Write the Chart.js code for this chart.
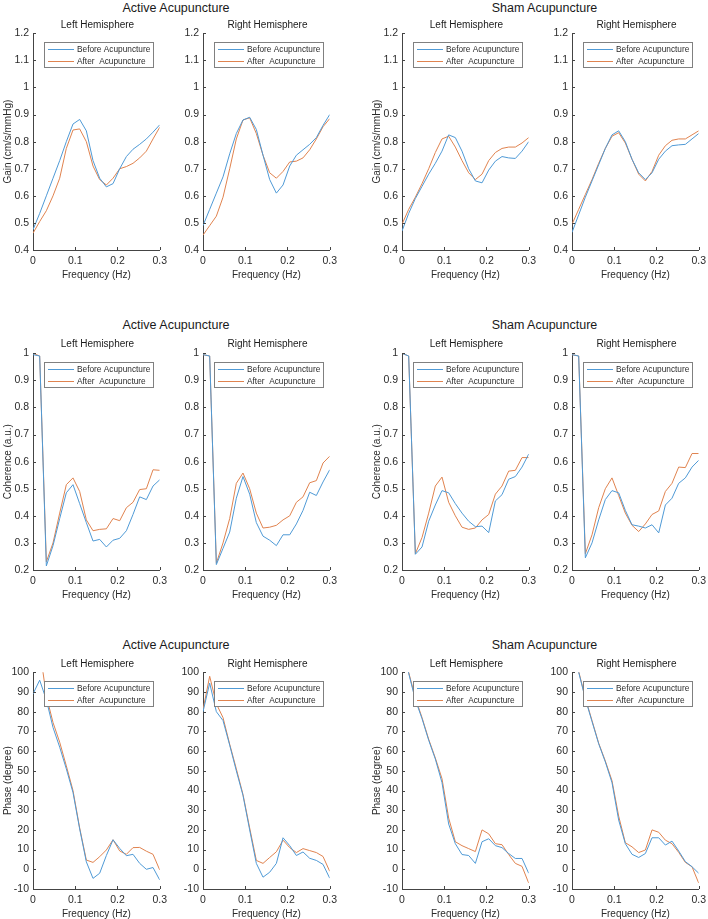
<!DOCTYPE html>
<html>
<head>
<meta charset="utf-8">
<script src="https://cdn.jsdelivr.net/npm/chart.js@4.4.0/dist/chart.umd.min.js"></script>
<style>
  body { margin: 0; background: #fff; }
  #fig { position: relative; width: 708px; height: 919px; overflow: hidden; font-family: "Liberation Sans", Arial, sans-serif; color: #1a1a1a; }
  .panel { position: absolute; }
  .title { position: absolute; width: 240px; text-align: center; font-size: 12.5px; line-height: 15px; white-space: nowrap; }
  .sub { position: absolute; width: 160px; text-align: center; font-size: 10px; line-height: 12px; white-space: nowrap; }
</style>
</head>
<body>
<div id="fig"></div>
<script>
// frequency axis (Hz), shared by every panel
const freq = [0, 0.0158, 0.0316, 0.0474, 0.0632, 0.0789, 0.0947, 0.1105, 0.1263, 0.1421,
              0.1579, 0.1737, 0.1895, 0.2053, 0.2211, 0.2368, 0.2526, 0.2684, 0.2842, 0.3];

// Gain
const gainActLBefore = [0.475, 0.535, 0.60, 0.665, 0.73, 0.80, 0.865, 0.882, 0.84, 0.73, 0.665, 0.633, 0.645, 0.70, 0.745, 0.772, 0.79, 0.81, 0.835, 0.862];
const gainActLAfter  = [0.462, 0.505, 0.545, 0.60, 0.665, 0.775, 0.843, 0.847, 0.80, 0.71, 0.66, 0.64, 0.665, 0.70, 0.708, 0.72, 0.74, 0.765, 0.81, 0.853];
const gainActRBefore = [0.49, 0.55, 0.61, 0.67, 0.755, 0.83, 0.88, 0.89, 0.845, 0.75, 0.66, 0.61, 0.64, 0.71, 0.75, 0.77, 0.79, 0.815, 0.86, 0.90];
const gainActRAfter  = [0.455, 0.49, 0.525, 0.595, 0.70, 0.81, 0.88, 0.888, 0.83, 0.75, 0.685, 0.665, 0.69, 0.725, 0.728, 0.74, 0.77, 0.81, 0.855, 0.885];
const gainShamLBefore = [0.47, 0.535, 0.59, 0.635, 0.68, 0.72, 0.765, 0.825, 0.815, 0.765, 0.70, 0.655, 0.648, 0.695, 0.728, 0.745, 0.74, 0.738, 0.765, 0.80];
const gainShamLAfter  = [0.495, 0.55, 0.595, 0.645, 0.70, 0.76, 0.81, 0.82, 0.78, 0.73, 0.685, 0.66, 0.68, 0.73, 0.76, 0.775, 0.78, 0.78, 0.795, 0.815];
const gainShamRBefore = [0.465, 0.53, 0.595, 0.655, 0.715, 0.775, 0.825, 0.84, 0.80, 0.735, 0.685, 0.66, 0.685, 0.735, 0.765, 0.785, 0.788, 0.79, 0.81, 0.83];
const gainShamRAfter  = [0.495, 0.55, 0.605, 0.66, 0.72, 0.775, 0.82, 0.833, 0.795, 0.735, 0.68, 0.655, 0.69, 0.75, 0.785, 0.805, 0.81, 0.81, 0.825, 0.84];

// Coherence
const cohActLBefore = [0.995, 0.99, 0.215, 0.29, 0.39, 0.485, 0.515, 0.445, 0.375, 0.307, 0.313, 0.285, 0.31, 0.317, 0.345, 0.405, 0.47, 0.46, 0.51, 0.533];
const cohActLAfter  = [1.0, 0.99, 0.23, 0.30, 0.41, 0.515, 0.54, 0.49, 0.385, 0.345, 0.35, 0.352, 0.39, 0.382, 0.43, 0.45, 0.497, 0.50, 0.57, 0.568];
const cohActRBefore = [0.995, 0.99, 0.22, 0.28, 0.34, 0.465, 0.545, 0.48, 0.375, 0.325, 0.31, 0.29, 0.33, 0.33, 0.37, 0.42, 0.487, 0.475, 0.525, 0.57];
const cohActRAfter  = [0.995, 0.99, 0.225, 0.30, 0.39, 0.52, 0.558, 0.50, 0.41, 0.355, 0.358, 0.365, 0.385, 0.40, 0.45, 0.47, 0.522, 0.53, 0.595, 0.62];
const cohShamLBefore = [1.0, 0.99, 0.258, 0.285, 0.38, 0.44, 0.493, 0.485, 0.445, 0.41, 0.38, 0.36, 0.362, 0.338, 0.455, 0.478, 0.535, 0.545, 0.58, 0.628];
const cohShamLAfter  = [1.0, 0.99, 0.26, 0.32, 0.41, 0.51, 0.543, 0.45, 0.40, 0.358, 0.35, 0.355, 0.385, 0.405, 0.48, 0.51, 0.565, 0.568, 0.615, 0.615];
const cohShamRBefore = [0.995, 0.99, 0.245, 0.30, 0.385, 0.46, 0.493, 0.485, 0.42, 0.367, 0.362, 0.355, 0.367, 0.337, 0.44, 0.465, 0.52, 0.54, 0.58, 0.605];
const cohShamRAfter  = [0.995, 0.99, 0.26, 0.33, 0.43, 0.50, 0.54, 0.475, 0.41, 0.365, 0.342, 0.37, 0.405, 0.418, 0.49, 0.52, 0.58, 0.578, 0.63, 0.63];

// Phase
const phaseActLBefore = [89, 96, 86, 72, 62, 51, 39, 20.5, 3.8, -4.6, -2, 7, 15, 10.6, 6.9, 7.6, 3, 0, 0.9, -5.4];
const phaseActLAfter  = [110, 112, 88, 74.5, 64.5, 52.5, 40, 21, 4.7, 3.5, 6.4, 9.8, 15, 9.3, 7.6, 11, 11.1, 9.2, 7.6, -0.3];
const phaseActRBefore = [80, 94.5, 80, 75.5, 63, 50, 37.5, 20, 3, -4, -1.5, 3, 16, 12, 7, 8.8, 5.6, 4.5, 2.5, -4.5];
const phaseActRAfter  = [81, 98, 84, 77, 63.5, 51, 38, 21, 4.5, 3, 6, 8.9, 14.8, 11, 8.5, 10.5, 9.5, 8.5, 6.5, -1];
const phaseShamLBefore = [115, 99.5, 86, 76.5, 65.5, 56, 44, 23, 13, 7.5, 7, 3, 14, 15.5, 12, 11, 8, 5.5, 5.5, -2];
const phaseShamLAfter  = [115, 100, 87, 77, 66, 56.5, 46, 26, 14, 12, 10.5, 9, 20, 18, 13, 12.5, 7.5, 3, 1.5, -7];
const phaseShamRBefore = [115, 100, 86.5, 75, 63.7, 54.5, 44, 25, 13, 7.6, 6, 8, 16, 16, 12.3, 14.3, 9.3, 3.9, 1.3, -2];
const phaseShamRAfter  = [115, 100.5, 87, 75.5, 64, 55, 45, 27, 13.5, 11.4, 8.5, 9.8, 20, 18.8, 14.8, 13, 8.6, 3.5, 1.3, -7];

// tick labels
const freqTickLabels = ['0', '0.1', '0.2', '0.3'];
const gainTickLabels = ['0.4', '0.5', '0.6', '0.7', '0.8', '0.9', '1', '1.1', '1.2'];
const cohTickLabels = ['0.2', '0.3', '0.4', '0.5', '0.6', '0.7', '0.8', '0.9', '1'];
const phaseTickLabels = ['-10', '0', '10', '20', '30', '40', '50', '60', '70', '80', '90', '100'];

const groupTitles = ['Active Acupuncture', 'Sham Acupuncture'];
const sideTitles = ['Left Hemisphere', 'Right Hemisphere'];
const seriesLabels = ['Before Acupuncture', 'After  Acupuncture'];

const BLUE = '#4f9ad6';
const ORANGE = '#e0834f';
const AXIS = '#444444';
const TEXT = '#2b2b2b';
const FONT = '"Liberation Sans", Arial, sans-serif';

// layout (px)
const colAxisX = [33, 203, 402, 572];
const rowTop = [33, 353, 672];
const groupCenterX = [176, 544.5];
const titleTop = [1, 318, 638];
const subTop = [19, 337.5, 657.5];
const PLOT_W = 129, PLOT_H = 217;
const Y_BOX = 33, X_BOX = 31, PAD_TOP = 10, PAD_RIGHT = 10;

const rows = [
    { yTitle: 'Gain (cm/s/mmHg)', min: 0.4, max: 1.2, step: 0.1, labels: gainTickLabels,
      data: [[gainActLBefore, gainActLAfter], [gainActRBefore, gainActRAfter], [gainShamLBefore, gainShamLAfter], [gainShamRBefore, gainShamRAfter]] },
    { yTitle: 'Coherence (a.u.)', min: 0.2, max: 1, step: 0.1, labels: cohTickLabels,
      data: [[cohActLBefore, cohActLAfter], [cohActRBefore, cohActRAfter], [cohShamLBefore, cohShamLAfter], [cohShamRBefore, cohShamRAfter]] },
    { yTitle: 'Phase (degree)', min: -10, max: 100, step: 10, labels: phaseTickLabels,
      data: [[phaseActLBefore, phaseActLAfter], [phaseActRBefore, phaseActRAfter], [phaseShamLBefore, phaseShamLAfter], [phaseShamRBefore, phaseShamRAfter]] },
];

// small inward tick marks like the original axes
const inwardTicks = {
    id: 'inwardTicks',
    afterDraw(chart) {
        const { ctx, chartArea: a, scales: { x, y } } = chart;
        ctx.save();
        ctx.strokeStyle = AXIS;
        ctx.lineWidth = 1;
        ctx.beginPath();
        x.ticks.forEach(t => {
            const px = Math.round(x.getPixelForValue(t.value)) + 0.5;
            ctx.moveTo(px, a.bottom);
            ctx.lineTo(px, a.bottom - 3);
        });
        y.ticks.forEach(t => {
            const py = Math.round(y.getPixelForValue(t.value)) + 0.5;
            ctx.moveTo(a.left, py);
            ctx.lineTo(a.left + 3, py);
        });
        ctx.stroke();
        ctx.restore();
    }
};

// boxed legend in the upper left of the plot
const boxLegend = {
    id: 'boxLegend',
    afterDatasetsDraw(chart) {
        const { ctx, chartArea: a } = chart;
        const bx = Math.round(a.left + 11), by = Math.round(a.top + 9);
        ctx.save();
        ctx.fillStyle = '#fff';
        ctx.fillRect(bx, by, 109, 25);
        ctx.strokeStyle = '#808080';
        ctx.lineWidth = 1;
        ctx.strokeRect(bx + 0.5, by + 0.5, 109, 25);
        ctx.font = '8.3px ' + FONT;
        ctx.textBaseline = 'middle';
        chart.data.datasets.forEach((ds, i) => {
            const ly = Math.round(by + 7 + i * 11.5) + 0.5;
            ctx.strokeStyle = ds.borderColor;
            ctx.beginPath();
            ctx.moveTo(bx + 4, ly);
            ctx.lineTo(bx + 30, ly);
            ctx.stroke();
            ctx.fillStyle = TEXT;
            ctx.fillText(ds.label, bx + 33, ly);
        });
        ctx.restore();
    }
};

const fig = document.getElementById('fig');

function addText(cls, text, left, top) {
    const d = document.createElement('div');
    d.className = cls;
    d.textContent = text;
    d.style.left = left + 'px';
    d.style.top = top + 'px';
    fig.appendChild(d);
}

function makePanel(rowIdx, colIdx) {
    const r = rows[rowIdx];
    const [before, after] = r.data[colIdx];
    const w = Y_BOX + PLOT_W + PAD_RIGHT;
    const h = PAD_TOP + PLOT_H + X_BOX;

    const wrap = document.createElement('div');
    wrap.className = 'panel';
    wrap.style.left = (colAxisX[colIdx] - Y_BOX) + 'px';
    wrap.style.top = (rowTop[rowIdx] - PAD_TOP) + 'px';
    const canvas = document.createElement('canvas');
    canvas.width = w;
    canvas.height = h;
    canvas.style.width = w + 'px';
    canvas.style.height = h + 'px';
    wrap.appendChild(canvas);
    fig.appendChild(wrap);

    const tickFont = { family: FONT, size: 10.5 };

    new Chart(canvas, {
        type: 'line',
        data: {
            datasets: [
                { label: seriesLabels[0], data: freq.map((f, i) => ({ x: f, y: before[i] })), borderColor: BLUE },
                { label: seriesLabels[1], data: freq.map((f, i) => ({ x: f, y: after[i] })), borderColor: ORANGE },
            ]
        },
        options: {
            responsive: false,
            animation: false,
            devicePixelRatio: 1,
            layout: { padding: { top: PAD_TOP, right: PAD_RIGHT, left: 0, bottom: 0 } },
            elements: {
                point: { radius: 0 },
                line: { borderWidth: 1, tension: 0, fill: false }
            },
            plugins: { legend: { display: false }, title: { display: false }, tooltip: { enabled: false } },
            scales: {
                x: {
                    type: 'linear', min: 0, max: 0.3,
                    afterFit: s => { s.height = X_BOX; },
                    grid: { display: true, drawOnChartArea: false, drawTicks: false },
                    border: { display: true, color: AXIS, width: 1 },
                    ticks: {
                        stepSize: 0.1, autoSkip: false, maxRotation: 0, padding: 5,
                        color: TEXT, font: tickFont,
                        callback: v => freqTickLabels[Math.round(v / 0.1)]
                    },
                    title: { display: true, text: 'Frequency (Hz)', color: TEXT, font: { family: FONT, size: 10 }, padding: { top: 0, bottom: 0 } }
                },
                y: {
                    type: 'linear', min: r.min, max: r.max,
                    afterFit: s => { s.width = Y_BOX; },
                    grid: { display: true, drawOnChartArea: false, drawTicks: false },
                    border: { display: true, color: AXIS, width: 1 },
                    ticks: {
                        stepSize: r.step, autoSkip: false, padding: 4,
                        color: TEXT, font: tickFont,
                        callback: v => r.labels[Math.round((v - r.min) / r.step)]
                    },
                    title: { display: colIdx % 2 === 0, text: r.yTitle, color: TEXT, font: { family: FONT, size: 10 }, padding: { top: 2, bottom: 0 } }
                }
            }
        },
        plugins: [boxLegend, inwardTicks]
    });

    addText('sub', sideTitles[colIdx % 2], colAxisX[colIdx] + PLOT_W / 2 - 80, subTop[rowIdx]);
}

rows.forEach((r, ri) => {
    groupTitles.forEach((t, gi) => addText('title', t, groupCenterX[gi] - 120, titleTop[ri]));
    colAxisX.forEach((_, ci) => makePanel(ri, ci));
});
</script>
</body>
</html>
